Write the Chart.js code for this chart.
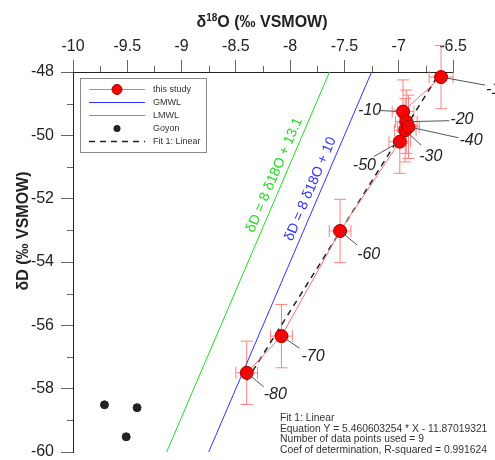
<!DOCTYPE html>
<html>
<head>
<meta charset="utf-8">
<script src="https://cdn.jsdelivr.net/npm/chart.js"></script>
<style>
  html, body { margin: 0; padding: 0; background: #fff; }
</style>
</head>
<body>
<canvas id="chart" width="495" height="460"></canvas>
<script>
// this study (depth labels, δ18O, δD and their errors)
const depthLabels = ['-1', '-10', '-20', '-30', '-40', '-50', '-60', '-70', '-80'];
const d18O = [-6.61, -6.96, -6.93, -6.94, -6.91, -6.99, -7.54, -8.08, -8.40];
const dD = [-48.16, -49.25, -49.57, -49.84, -49.73, -50.20, -53.02, -56.34, -57.50];
const d18OErr = [0.11, 0.1, 0.1, 0.1, 0.1, 0.1, 0.1, 0.1, 0.1];
const dDErr = [1, 1, 1, 1, 1, 1, 1, 1, 1];

// Goyon
const goyonX = [-9.71, -9.41, -9.51];
const goyonY = [-58.51, -58.60, -59.52];

// meteoric water lines (end points)
const gmwlX = [-8.75, -7.25];
const gmwlY = [-60, -48];
const lmwlX = [-9.1375, -7.6375];
const lmwlY = [-60, -48];
const mwlText = ['δD = 8 δ18O + 10', 'δD = 8 δ18O + 13.1'];

// Fit 1: Linear
const fitX = [-8.40, -6.61];
const fitY = [-57.74, -47.96];
const fitText = [
  'Fit 1: Linear',
  'Equation Y = 5.460603254 * X - 11.87019321',
  'Number of data points used = 9',
  'Coef of determination, R-squared = 0.991624'
];

// axes
const xTickVals = [-10, -9.5, -9, -8.5, -8, -7.5, -7, -6.5];
const xMinor = [-9.75, -9.25, -8.75, -8.25, -7.75, -7.25, -6.75];
const yTickVals = [-60, -58, -56, -54, -52, -50, -48];
const yMinor = [-59, -57, -55, -53, -51, -49];

// label placement (pixels from the point): text start, leader end
const labelOff = [[45, 12], [-45, -1], [44, -2], [14, 26], [51, 14], [-47, 24], [17, 24], [20, 20], [17, 22]];
const leadOff = [[44, 8], [-23, -1], [43, -1], [16, 15], [50, 11], [-26, 15], [17, 14], [18, 12], [17, 14]];

const FONT = '"Liberation Sans", Arial, sans-serif';
const pts = (xs, ys) => xs.map((v, i) => ({ x: v, y: ys[i] }));

const overlay = {
  id: 'overlay',
  beforeDatasetsDraw(chart) {
    const { ctx, scales: { x, y } } = chart;
    ctx.save();
    ctx.strokeStyle = '#ff8080';
    ctx.lineWidth = 1;
    const cap = 6;
    d18O.forEach((v, i) => {
      const px = x.getPixelForValue(v), py = y.getPixelForValue(dD[i]);
      const y0 = y.getPixelForValue(dD[i] - dDErr[i]), y1 = y.getPixelForValue(dD[i] + dDErr[i]);
      const x0 = x.getPixelForValue(v - d18OErr[i]), x1 = x.getPixelForValue(v + d18OErr[i]);
      ctx.beginPath();
      ctx.moveTo(px, y0); ctx.lineTo(px, y1);
      ctx.moveTo(px - cap, y0); ctx.lineTo(px + cap, y0);
      ctx.moveTo(px - cap, y1); ctx.lineTo(px + cap, y1);
      ctx.moveTo(x0, py); ctx.lineTo(x1, py);
      ctx.moveTo(x0, py - cap); ctx.lineTo(x0, py + cap);
      ctx.moveTo(x1, py - cap); ctx.lineTo(x1, py + cap);
      ctx.stroke();
    });
    ctx.restore();
  },
  afterDatasetsDraw(chart) {
    const { ctx, chartArea: a, scales: { x, y } } = chart;
    ctx.save();

    // minor ticks
    ctx.strokeStyle = '#666';
    ctx.lineWidth = 1;
    ctx.beginPath();
    xMinor.forEach(v => {
      const px = Math.round(x.getPixelForValue(v)) + 0.5;
      ctx.moveTo(px, a.top); ctx.lineTo(px, a.top - 6);
    });
    yMinor.forEach(v => {
      const py = Math.round(y.getPixelForValue(v)) + 0.5;
      ctx.moveTo(a.left, py); ctx.lineTo(a.left - 6, py);
    });
    ctx.stroke();

    // depth labels with leader lines
    ctx.strokeStyle = '#555';
    ctx.fillStyle = '#222';
    ctx.font = 'italic 16px ' + FONT;
    ctx.textBaseline = 'middle';
    ctx.textAlign = 'left';
    d18O.forEach((v, i) => {
      const px = x.getPixelForValue(v), py = y.getPixelForValue(dD[i]);
      ctx.beginPath();
      ctx.moveTo(px, py);
      ctx.lineTo(px + leadOff[i][0], py + leadOff[i][1]);
      ctx.stroke();
      ctx.fillText(depthLabels[i], px + labelOff[i][0], py + labelOff[i][1]);
    });

    // rotated MWL equations
    const mwl = [
      { xs: gmwlX, ys: gmwlY, at: -51.82, color: '#3333ff' },
      { xs: lmwlX, ys: lmwlY, at: -51.38, color: '#22dd22' }
    ];
    ctx.font = '14px ' + FONT;
    ctx.textAlign = 'center';
    ctx.textBaseline = 'bottom';
    mwl.forEach((m, i) => {
      const x0 = x.getPixelForValue(m.xs[0]), y0 = y.getPixelForValue(m.ys[0]);
      const x1 = x.getPixelForValue(m.xs[1]), y1 = y.getPixelForValue(m.ys[1]);
      const t = (m.at - m.ys[0]) / (m.ys[1] - m.ys[0]);
      const vx = m.xs[0] + t * (m.xs[1] - m.xs[0]);
      ctx.save();
      ctx.translate(x.getPixelForValue(vx), y.getPixelForValue(m.at));
      ctx.rotate(Math.atan2(y1 - y0, x1 - x0));
      ctx.fillStyle = m.color;
      ctx.fillText(mwlText[i], 0, -3);
      ctx.restore();
    });

    // legend box
    ctx.strokeStyle = '#888';
    ctx.strokeRect(80.5, 78.5, 126, 74);
    const items = [
      { t: 'this study', line: '#ff7070', dot: 5 },
      { t: 'GMWL', line: '#3333ff' },
      { t: 'LMWL', line: '#22dd22' },
      { t: 'Goyon', dot: 3.5, dotColor: '#222' },
      { t: 'Fit 1: Linear', line: '#222', dash: [6, 5], w: 1.5 }
    ];
    ctx.font = '9px ' + FONT;
    ctx.textAlign = 'left';
    ctx.textBaseline = 'middle';
    items.forEach((it, i) => {
      const ly = 89.5 + i * 13;
      if (it.line) {
        ctx.save();
        ctx.strokeStyle = it.line;
        ctx.lineWidth = it.w || 1;
        ctx.setLineDash(it.dash || []);
        ctx.beginPath();
        ctx.moveTo(89, ly); ctx.lineTo(145, ly);
        ctx.stroke();
        ctx.restore();
      }
      if (it.dot) {
        ctx.beginPath();
        ctx.arc(117, ly, it.dot, 0, Math.PI * 2);
        ctx.fillStyle = it.dotColor || '#ff0000';
        ctx.fill();
        if (!it.dotColor) { ctx.strokeStyle = '#a00000'; ctx.stroke(); }
      }
      ctx.fillStyle = '#333';
      ctx.fillText(it.t, 153, ly);
    });

    // fit report
    ctx.font = '10.3px ' + FONT;
    ctx.fillStyle = '#333';
    fitText.forEach((s, i) => ctx.fillText(s, 280, 418 + i * 10.7));

    // axis titles
    ctx.fillStyle = '#222';
    ctx.textBaseline = 'middle';
    const big = 'bold 16px ' + FONT, sup = 'bold 10px ' + FONT;
    const parts = [['δ', big, 0], ['18', sup, -5], ['O (‰ VSMOW)', big, 0]];
    let w = 0;
    parts.forEach(p => { ctx.font = p[1]; w += ctx.measureText(p[0]).width; });
    let cx = (a.left + a.right) / 2 - 1 - w / 2;
    ctx.textAlign = 'left';
    parts.forEach(p => {
      ctx.font = p[1];
      ctx.fillText(p[0], cx, 23 + p[2]);
      cx += ctx.measureText(p[0]).width;
    });
    ctx.save();
    ctx.translate(24, 231);
    ctx.rotate(-Math.PI / 2);
    ctx.font = big;
    ctx.textAlign = 'center';
    ctx.fillText('δD (‰ VSMOW)', 0, 0);
    ctx.restore();

    ctx.restore();
  }
};

const axisCommon = {
  grid: { drawOnChartArea: false, drawTicks: true, tickLength: 12, tickColor: '#666' },
  border: { color: '#222', width: 1 },
  ticks: { padding: 7, color: '#222', font: { family: FONT, size: 16, lineHeight: 1 }, autoSkip: false, maxRotation: 0, callback: v => String(v) }
};

new Chart(document.getElementById('chart'), {
  type: 'scatter',
  data: {
    datasets: [
      {
        label: 'this study', data: pts(d18O, dD), showLine: true,
        borderColor: '#ff7070', borderWidth: 1,
        pointRadius: 6.5, pointBackgroundColor: '#ff0000', pointBorderColor: '#a00000', pointBorderWidth: 1,
        clip: false
      },
      { label: 'GMWL', data: pts(gmwlX, gmwlY), showLine: true, borderColor: '#3333ff', borderWidth: 1, pointRadius: 0 },
      { label: 'LMWL', data: pts(lmwlX, lmwlY), showLine: true, borderColor: '#22dd22', borderWidth: 1, pointRadius: 0 },
      { label: 'Goyon', data: pts(goyonX, goyonY), showLine: false, pointRadius: 4, pointBackgroundColor: '#222', pointBorderColor: '#222' },
      { label: 'Fit 1: Linear', data: pts(fitX, fitY), showLine: true, borderColor: '#222', borderWidth: 1.5, borderDash: [6, 5], pointRadius: 0 }
    ]
  },
  options: {
    responsive: false,
    animation: false,
    devicePixelRatio: 1,
    layout: { padding: { left: 0, top: 0, right: 42, bottom: 8 } },
    plugins: { legend: { display: false }, tooltip: { enabled: false } },
    scales: {
      x: Object.assign({}, axisCommon, {
        type: 'linear', position: 'top', min: -10, max: -6.5,
        ticks: Object.assign({}, axisCommon.ticks, { padding: 5 }),
        afterBuildTicks: s => { s.ticks = xTickVals.map(v => ({ value: v })); },
        afterFit: s => { s.height = 72; s.paddingLeft = 0; s.paddingRight = 0; }
      }),
      y: Object.assign({}, axisCommon, {
        type: 'linear', position: 'left', min: -60, max: -48,
        afterBuildTicks: s => { s.ticks = yTickVals.map(v => ({ value: v })); },
        afterFit: s => { s.width = 73; s.paddingTop = 0; s.paddingBottom = 0; }
      })
    }
  },
  plugins: [overlay]
});
</script>
</body>
</html>
